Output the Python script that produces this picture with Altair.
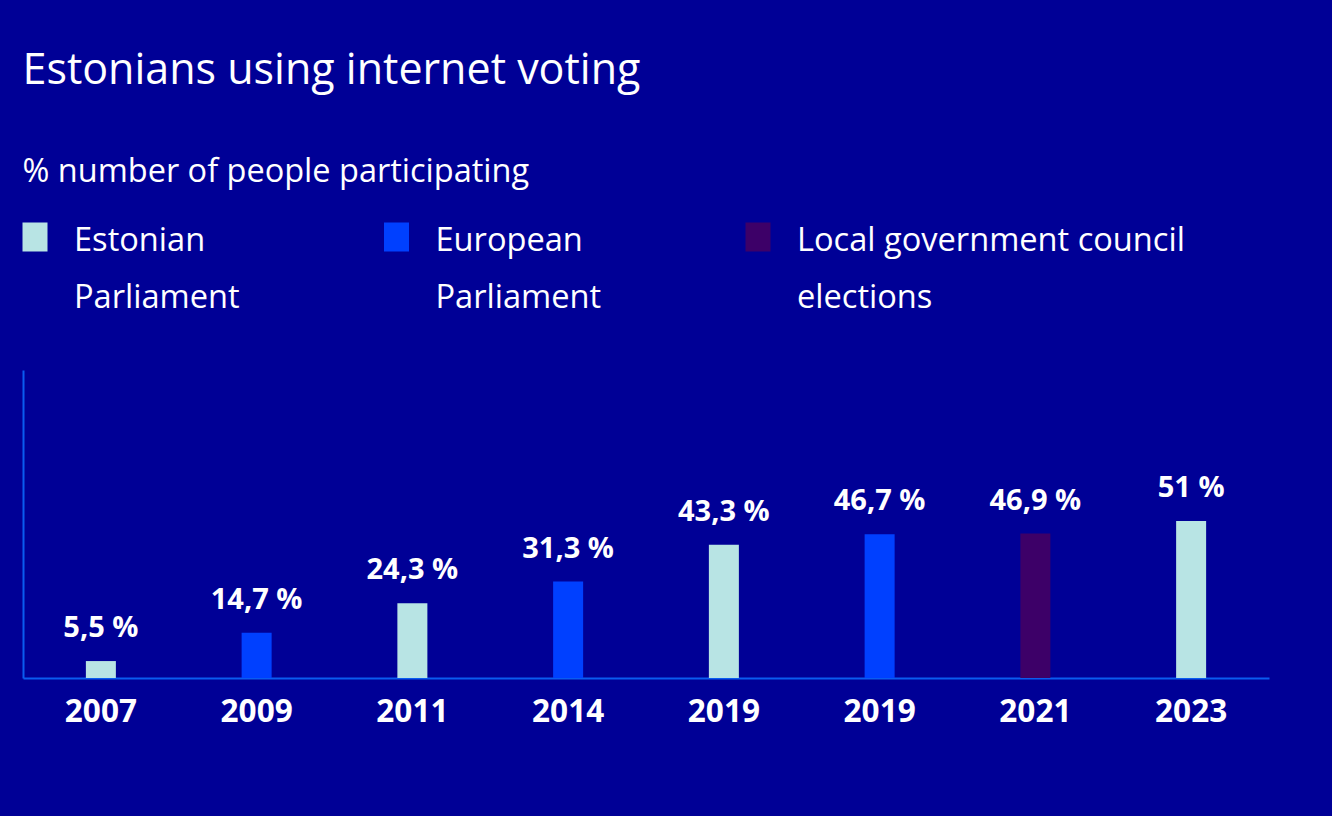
import altair as alt
import pandas as pd

# ---- data ----
slots = ["2007", "2009", "2011", "2014", "2019-1", "2019-2", "2021", "2023"]
years = ["2007", "2009", "2011", "2014", "2019", "2019", "2021", "2023"]
values = [5.5, 14.7, 24.3, 31.3, 43.3, 46.7, 46.9, 51.0]
election_type = [
    "Estonian Parliament", "European Parliament", "Estonian Parliament",
    "European Parliament", "Estonian Parliament", "European Parliament",
    "Local government council elections", "Estonian Parliament",
]
legend_keys = ["Estonian Parliament", "European Parliament", "Local government council elections"]
legend_lines = ["Estonian\nParliament", "European\nParliament", "Local government council\nelections"]
colors = ["#b8e4e4", "#0040ff", "#3d0068"]

labels = [f"{v:g}".replace(".", ",") + " %" for v in values]

BG = "#000096"
AXIS = "#0a5cf0"
FONT = "Open Sans"

df = pd.DataFrame({"slot": slots, "year": years, "value": values,
                   "type": election_type, "label": labels})
leg_df = pd.DataFrame({"key": legend_keys, "text": legend_lines})

color_scale = alt.Scale(domain=legend_keys, range=colors)

# ---- legend row ----
xs = alt.X("key:N", sort=legend_keys,
           scale=alt.Scale(type="point", domain=legend_keys, range=[12, 735], padding=0),
           axis=None)
squares = alt.Chart(leg_df).mark_point(
    shape="M-0.862,-1L0.862,-1L0.862,1L-0.862,1Z", size=841, filled=True, opacity=1
).encode(
    x=xs, y=alt.value(22),
    color=alt.Color("key:N", scale=color_scale, legend=None),
)
leg_text = alt.Chart(leg_df).mark_text(
    align="left", baseline="top", dx=39, lineBreak="\n", lineHeight=57,
    font=FONT, fontSize=32.6, color="white",
).encode(x=xs, y=alt.value(10), text="text:N")
legend_chart = alt.layer(squares, leg_text).properties(width=1246, height=100)

# ---- bars ----
xb = alt.X("slot:N", sort=slots,
           scale=alt.Scale(paddingInner=0, paddingOuter=0),
           axis=alt.Axis(title=None, labelExpr="split(datum.value, '-')[0]",
                         ticks=False, tickSize=0, labelPadding=18, labelAngle=0,
                         labelFont=FONT, labelFontSize=31.5, labelFontWeight="bold",
                         labelColor="white", domainColor=AXIS, domainWidth=2,
                         grid=False))
yb = alt.Y("value:Q", scale=alt.Scale(domain=[0, 100], nice=False),
           axis=alt.Axis(title=None, labels=False, ticks=False, grid=False,
                         domainColor=AXIS, domainWidth=2))

bars = alt.Chart(df).mark_bar(width=30).encode(
    x=xb, y=yb,
    color=alt.Color("type:N", scale=color_scale, legend=None),
)
bar_text = alt.Chart(df).mark_text(
    baseline="alphabetic", dy=-24, font=FONT, fontSize=29, fontWeight="bold",
    color="white",
).encode(x=xb, y=yb, text="label:N")
bar_chart = alt.layer(bars, bar_text).properties(width=1246, height=308)

chart = alt.vconcat(legend_chart, bar_chart, spacing=55).properties(
    title=alt.TitleParams(
        text="Estonians using internet voting",
        subtitle="% number of people participating",
        anchor="start", font=FONT, fontSize=43, fontWeight="normal", color="white",
        subtitleFont=FONT, subtitleFontSize=32.5, subtitleColor="white",
        subtitlePadding=63, offset=27,
    ),
    padding={"left": 22, "top": 49, "right": 63, "bottom": 88},
    background=BG,
).configure_view(stroke=None)

chart.save("out.html", embed_options={"renderer": "svg", "actions": False})
